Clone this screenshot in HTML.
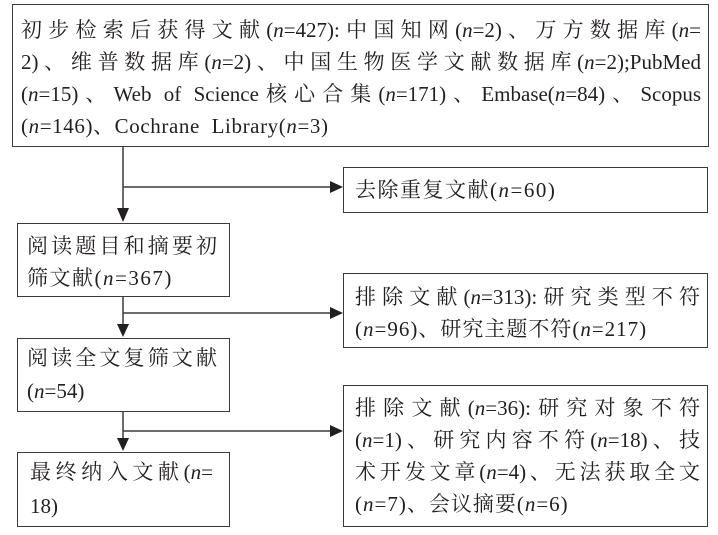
<!DOCTYPE html>
<html><head><meta charset="utf-8"><style>
body{margin:0;background:#fff;width:718px;height:535px;position:relative;overflow:hidden;font-family:"Liberation Serif","Noto Serif CJK SC",serif;color:#231f20}
.b{position:absolute;border:1.5px solid #3a3a3a;box-sizing:border-box}
.l{position:absolute;font-size:21px;line-height:24px;white-space:nowrap}
.j{text-align:justify;text-align-last:justify}
i{font-style:italic}
svg{position:absolute;left:0;top:0}
</style></head><body>
<div class="b" style="left:12px;top:4px;width:697px;height:143px"></div>
<div class="b" style="left:343px;top:167px;width:365px;height:46px"></div>
<div class="b" style="left:17px;top:223px;width:213px;height:74px"></div>
<div class="b" style="left:343px;top:273px;width:365px;height:75px"></div>
<div class="b" style="left:17px;top:338px;width:213px;height:74px"></div>
<div class="b" style="left:343px;top:385px;width:365px;height:142px"></div>
<div class="b" style="left:17px;top:452px;width:213px;height:75px"></div>
<svg width="718" height="535">
<g stroke="#3a3a3a" stroke-width="1.5" fill="none">
<line x1="123" y1="147" x2="123" y2="215"/>
<line x1="123" y1="187" x2="335" y2="187"/>
<line x1="123" y1="297" x2="123" y2="330"/>
<line x1="123" y1="313" x2="335" y2="313"/>
<line x1="123" y1="412" x2="123" y2="444"/>
<line x1="123" y1="431" x2="335" y2="431"/>
</g>
<g fill="#231f20">
<polygon points="117,208 129,208 123,222"/>
<polygon points="117,324 129,324 123,337"/>
<polygon points="117,438 129,438 123,451"/>
<polygon points="330,181 330,193 343,187"/>
<polygon points="330,307 330,319 343,313"/>
<polygon points="330,425 330,437 343,431"/>
</g>
</svg>
<div class="l j" style="left:21px;top:18px;width:680px">初步检索后获得文献(<i>n</i>=427):中国知网(<i>n</i>=2)、万方数据库(<i>n</i>=</div>
<div class="l j" style="left:21px;top:50px;width:680px">2)、维普数据库(<i>n</i>=2)、中国生物医学文献数据库(<i>n</i>=2);PubMed</div>
<div class="l j" style="left:21px;top:82px;width:680px">(<i>n</i>=15)、Web of Science核心合集(<i>n</i>=171)、Embase(<i>n</i>=84)、Scopus</div>
<div class="l" style="left:21px;top:114px;letter-spacing:0.6px">(<i>n</i>=146)、Cochrane&nbsp; Library(<i>n</i>=3)</div>
<div class="l" style="left:355px;top:178px;letter-spacing:1.5px">去除重复文献(<i>n</i>=60)</div>
<div class="l j" style="left:27px;top:234px;width:190px">阅读题目和摘要初</div>
<div class="l" style="left:27px;top:266px;letter-spacing:1.5px">筛文献(<i>n</i>=367)</div>
<div class="l j" style="left:355px;top:285px;width:345px">排除文献(<i>n</i>=313):研究类型不符</div>
<div class="l" style="left:355px;top:317px;letter-spacing:1px">(<i>n</i>=96)、研究主题不符(<i>n</i>=217)</div>
<div class="l j" style="left:27px;top:346px;width:190px">阅读全文复筛文献</div>
<div class="l" style="left:27px;top:379px">(<i>n</i>=54)</div>
<div class="l j" style="left:355px;top:396px;width:345px">排除文献(<i>n</i>=36):研究对象不符</div>
<div class="l j" style="left:355px;top:428px;width:345px">(<i>n</i>=1)、研究内容不符(<i>n</i>=18)、技</div>
<div class="l j" style="left:355px;top:460px;width:345px">术开发文章(<i>n</i>=4)、无法获取全文</div>
<div class="l" style="left:355px;top:492px;letter-spacing:1px">(<i>n</i>=7)、会议摘要(<i>n</i>=6)</div>
<div class="l j" style="left:30px;top:460px;width:183px">最终纳入文献(<i>n</i>=</div>
<div class="l" style="left:30px;top:494px">18)</div>
</body></html>
